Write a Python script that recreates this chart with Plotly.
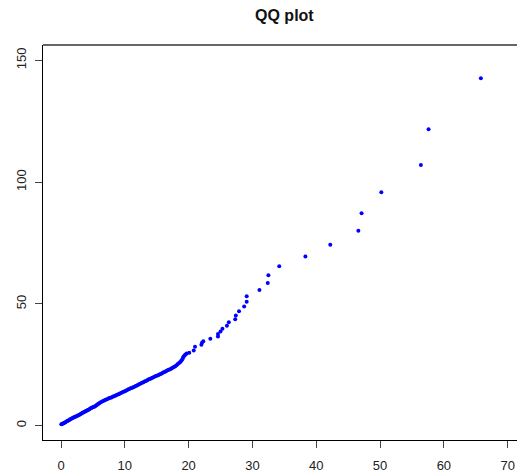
import plotly.graph_objects as go

# Theoretical quantiles (x) against sorted sample quantiles (y)
theoretical = [
    0.05, 0.15, 0.3, 0.4, 0.55, 0.7, 0.85, 1.0, 1.15, 1.3, 1.45, 1.6, 1.75, 1.9,
    2.05, 2.2, 2.35, 2.5, 2.65, 2.8, 2.95, 3.1, 3.25, 3.4, 3.55, 3.7, 3.85, 4.0,
    4.15, 4.3, 4.45, 4.6, 4.75, 4.9, 5.05, 5.2, 5.35, 5.5, 5.65, 5.8, 5.95,
    6.1, 6.3, 6.5, 6.7, 6.9, 7.1, 7.3, 7.5, 7.7, 7.9, 8.1, 8.3, 8.5, 8.7, 8.9,
    9.1, 9.3, 9.5, 9.7, 9.9, 10.1, 10.3, 10.5, 10.7, 10.9, 11.1, 11.3, 11.5,
    11.7, 11.9, 12.1, 12.3, 12.5, 12.7, 12.9, 13.1, 13.3, 13.5, 13.7, 13.9,
    14.1, 14.3, 14.5, 14.7, 14.9, 15.1, 15.3, 15.5, 15.7, 15.9, 16.1, 16.3,
    16.5, 16.7, 16.9, 17.1, 17.3, 17.5, 17.7, 17.9, 18.1, 18.3, 18.5, 18.7,
    18.85, 19.0, 19.1, 19.2, 19.35, 19.5, 19.7, 20.1, 20.8, 21.0, 22.0, 22.1,
    22.3, 23.4, 24.6, 24.6, 25.0, 25.3, 26.0, 26.3, 27.3, 27.4, 27.9, 28.7,
    29.1, 29.1, 31.1, 32.4, 32.5, 34.2, 38.3, 42.2, 46.6, 47.1, 50.2, 56.4,
    57.6, 65.8,
]
sample = [
    0.6, 0.7, 0.9, 1.0, 1.2, 1.4, 1.7, 1.9, 2.1, 2.3, 2.6, 2.8, 3.0, 3.2,
    3.4, 3.6, 3.8, 4.0, 4.2, 4.4, 4.6, 4.8, 5.1, 5.3, 5.5, 5.7, 5.9, 6.1,
    6.3, 6.5, 6.7, 7.0, 7.2, 7.4, 7.6, 7.8, 8.0, 8.3, 8.6, 8.9, 9.1,
    9.4, 9.7, 10.0, 10.2, 10.5, 10.7, 10.9, 11.2, 11.4, 11.6, 11.9, 12.1, 12.3,
    12.6, 12.8, 13.0, 13.3, 13.5, 13.8, 14.0, 14.2, 14.5, 14.8, 15.0, 15.3,
    15.5, 15.8, 16.0, 16.3, 16.5, 16.8, 17.1, 17.3, 17.6, 17.8, 18.1, 18.3,
    18.6, 18.9, 19.1, 19.4, 19.7, 19.9, 20.2, 20.4, 20.6, 20.8, 21.1, 21.3,
    21.6, 21.9, 22.1, 22.4, 22.7, 22.9, 23.2, 23.5, 23.8, 24.1, 24.4, 24.8,
    25.3, 25.7, 26.1, 26.6, 27.2, 27.8, 28.3, 28.8, 29.2, 29.6, 29.9, 30.9,
    32.4, 33.2, 34.0, 34.7, 35.7, 36.6, 37.6, 38.7, 39.8, 41.0, 42.5, 43.7,
    45.2, 47.0, 48.9, 50.9, 53.1, 55.7, 58.6, 61.8, 65.4, 69.4, 74.3, 80.0,
    87.2, 95.8, 107.0, 121.7, 142.6,
]

x_ticks = [0, 10, 20, 30, 40, 50, 60, 70]
y_ticks = [0, 50, 100, 150]

FONT = "Liberation Sans, Arial, Helvetica, sans-serif"

fig = go.Figure(
    go.Scatter(
        x=theoretical,
        y=sample,
        mode="markers",
        marker=dict(color="#0000FF", size=4, line=dict(width=0)),
        hoverinfo="x+y",
    )
)

fig.update_layout(
    width=517,
    height=473,
    margin=dict(l=43, r=0, t=45, b=31),
    paper_bgcolor="white",
    plot_bgcolor="white",
    showlegend=False,
    font=dict(family=FONT, size=13, color="#222222"),
    title=dict(
        text="<b>QQ plot</b>",
        font=dict(family=FONT, size=16, color="#111111"),
        x=0.55,
        xanchor="center",
        y=1 - 15 / 473,
        yanchor="middle",
    ),
    shapes=[
        dict(
            type="line", xref="paper", yref="paper",
            x0=0, x1=1, y0=1, y1=1,
            line=dict(color="#333333", width=1.5),
        )
    ],
)

fig.update_xaxes(
    range=[-2.82, 71.46],
    tickvals=x_ticks,
    ticktext=[str(v) for v in x_ticks],
    ticks="outside",
    ticklen=7,
    tickwidth=1,
    tickcolor="#444444",
    showline=True,
    linecolor="black",
    linewidth=1,
    showgrid=False,
    zeroline=False,
    ticklabelstandoff=6,
)

fig.update_yaxes(
    range=[-5.9, 156.3],
    tickvals=y_ticks,
    ticktext=[str(v) for v in y_ticks],
    tickangle=-90,
    ticks="outside",
    ticklen=7,
    tickwidth=1,
    tickcolor="#444444",
    showline=True,
    linecolor="black",
    linewidth=1,
    showgrid=False,
    zeroline=False,
    ticklabelstandoff=4,
)

fig.write_html("out.html")
